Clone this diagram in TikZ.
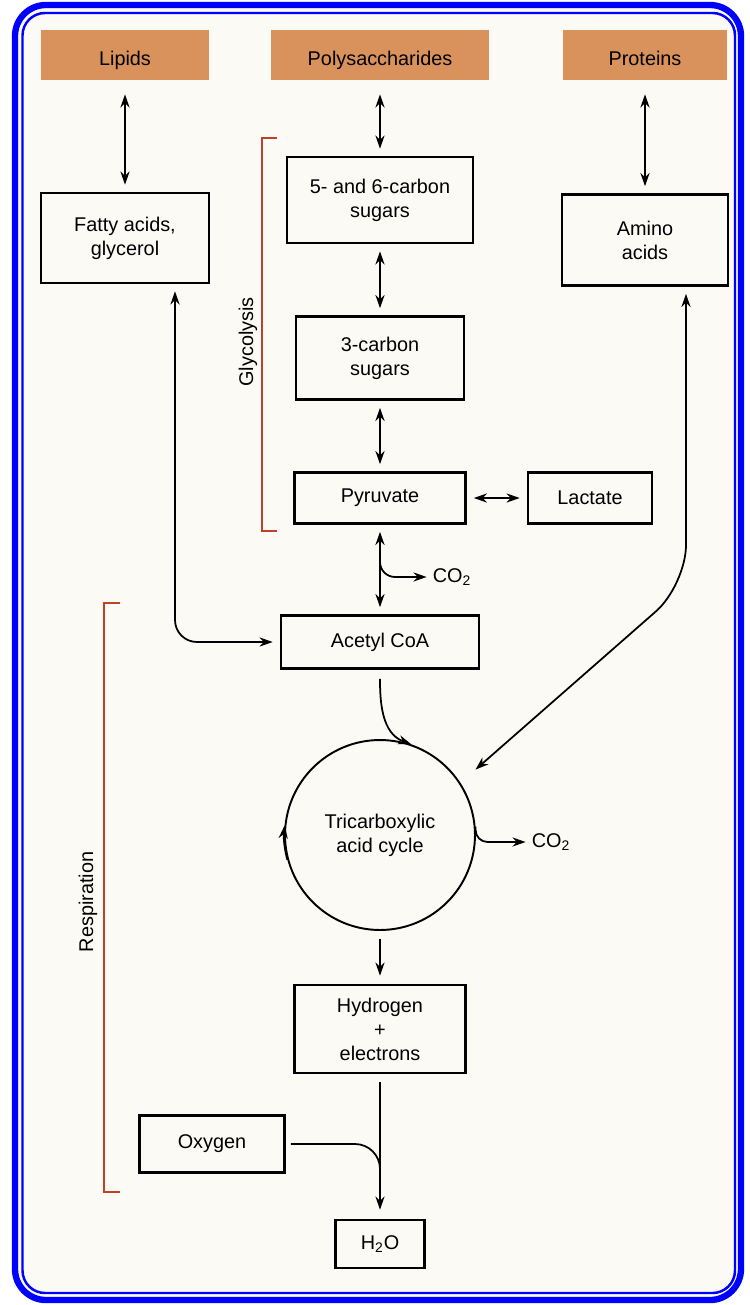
\documentclass[tikz,border=0pt]{standalone}
\usepackage{fontspec}
\setmainfont{Liberation Sans}
\usetikzlibrary{arrows.meta,calc}
\definecolor{borderblue}{RGB}{0,0,255}
\definecolor{sourcefill}{RGB}{218,146,92}
\definecolor{bracketred}{RGB}{192,64,40}
\definecolor{paper}{RGB}{251,250,245}
\begin{document}
\begin{tikzpicture}[x=0.02cm, y=0.02cm,
    font=\fontsize{11.3}{13.6}\selectfont,
    block/.style={draw, rectangle, line width=1.5pt, align=center, inner sep=2pt},
    source/.style={rectangle, fill=sourcefill, minimum height=1cm, text height=2.3ex, text depth=0.1ex},
    link/.style={{Stealth[length=7.5pt,width=5.2pt]}-{Stealth[length=7.5pt,width=5.2pt]}, line width=1pt, shorten <=0.14cm, shorten >=0.14cm},
    flow/.style={-{Stealth[length=7.5pt,width=5.2pt]}, line width=1pt},
    bracket/.style={draw=bracketred, line width=1.2pt}
  ]
    \useasboundingbox (0,0) rectangle (750,-1305);

    % Frame
    \fill[white] (0,0) rectangle (750,-1305);
    \draw[borderblue, fill=paper, line width=3.6pt, rounded corners=0.62cm] (15,-5) rectangle (741,-1300);
    \draw[borderblue, line width=1.4pt, rounded corners=0.45cm] (22.5,-13) rectangle (735,-1293);

    % Sources
    \node[source, minimum width=3.36cm] at (125,-55)  (lipids)   {Lipids};
    \node[source, minimum width=4.36cm] at (380,-55)  (poly)     {Polysaccharides};
    \node[source, minimum width=3.28cm] at (645,-55)  (proteins) {Proteins};

    % Blocks
    \node[block, minimum width=3.36cm, minimum height=1.8cm]  at (125,-238)  (fatty)    {Fatty acids,\\glycerol};
    \node[block, minimum width=3.72cm, minimum height=1.72cm] at (380,-200)  (hexose)   {5- and 6-carbon\\sugars};
    \node[block, minimum width=3.32cm, minimum height=1.82cm] at (645,-240)  (amino)    {Amino\\acids};
    \node[block, minimum width=3.36cm, minimum height=1.66cm] at (380,-358)  (triose)   {3-carbon\\sugars};
    \node[block, minimum width=3.42cm, minimum height=1.02cm] at (380,-498)  (pyruvate) {Pyruvate};
    \node[block, minimum width=2.48cm, minimum height=1.02cm] at (590,-498)  (lactate)  {Lactate};
    \node[block, minimum width=3.96cm, minimum height=1.06cm] at (380,-642)  (acetyl)   {Acetyl CoA};
    \node[draw, circle, line width=1.1pt, minimum size=3.8cm, align=center] at (380,-835) (tca) {Tricarboxylic\\acid cycle};
    \node[block, minimum width=3.42cm, minimum height=1.76cm] at (380,-1029) (hydrogen) {Hydrogen\\+\\electrons};
    \node[block, minimum width=2.9cm,  minimum height=1.14cm] at (212,-1144) (oxygen)   {Oxygen};
    \node[block, minimum width=1.78cm, minimum height=0.96cm] at (380,-1244) (water)    {H\textsubscript{2}O};

    % Labels
    \node at (452,-577) (co2top) {CO\textsubscript{2}};
    \node at (551,-842) (co2tca) {CO\textsubscript{2}};
    \node[rotate=90] at (248,-342) (glylabel)  {Glycolysis};
    \node[rotate=90] at (88,-902)  (resplabel) {Respiration};

    % Brackets
    \draw[bracket] (277,-138) -- (262,-138) -- (262,-531) -- (277,-531);
    \draw[bracket] (120,-603) -- (104,-603) -- (104,-1192) -- (120,-1192);

    % Connections
    \draw[link, shorten <=0.28cm] (lipids) -- (fatty);
    \draw[link, shorten <=0.28cm] (poly) -- (hexose);
    \draw[link, shorten <=0.28cm] (proteins) -- (amino);
    \draw[link] (hexose) -- (triose);
    \draw[link] (triose) -- (pyruvate);
    \draw[link] (pyruvate) -- (lactate);
    \draw[link] (pyruvate) -- (acetyl);
    \coordinate (co2fork) at ($(pyruvate.south)!0.36!(acetyl.north)$);
    \draw[flow, rounded corners=0.3cm] (co2fork) |- (co2top.west);
    \draw[link, rounded corners=0.44cm] ([xshift=1cm]fatty.south) |- (acetyl.west);
    \draw[link, shorten >=0.4cm, rounded corners=0.8cm] ([xshift=0.82cm]amino.south) -- (686,-585) -- (tca.33);
    \draw[flow, shorten <=0.18cm] (acetyl.south) to[out=-90,in=160] (tca.71);
    \draw[flow] (tca.195) arc[start angle=195, end angle=174, radius=1.9cm];
    \draw[flow, rounded corners=0.24cm] (tca.5) |- (co2tca.west);
    \draw[flow, shorten <=0.16cm, shorten >=0.16cm] (tca) -- (hydrogen);
    \draw[flow, shorten <=0.16cm, shorten >=0.18cm] (hydrogen) -- (water);
    \coordinate (join) at ($(hydrogen.south |- oxygen.south)+(0,-0.1cm)$);
    \draw[line width=1pt, rounded corners=0.5cm, shorten <=0.1cm] (oxygen.east) -| (join);

  \end{tikzpicture}
\end{document}
